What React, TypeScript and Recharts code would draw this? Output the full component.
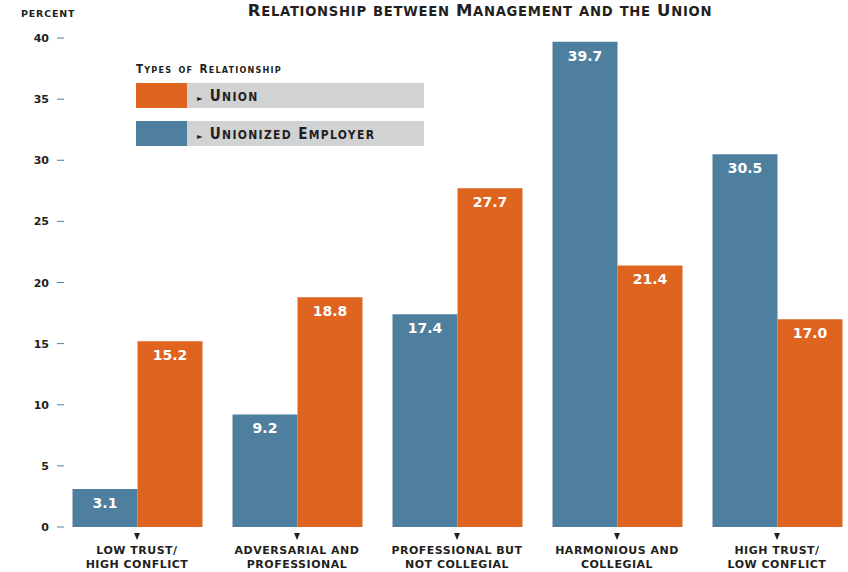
import { BarChart, Bar, XAxis, YAxis, LabelList } from 'recharts';

const categories = [
  'LOW TRUST/|HIGH CONFLICT',
  'ADVERSARIAL AND|PROFESSIONAL',
  'PROFESSIONAL BUT|NOT COLLEGIAL',
  'HARMONIOUS AND|COLLEGIAL',
  'HIGH TRUST/|LOW CONFLICT',
];
const employerValues = [3.1, 9.2, 17.4, 39.7, 30.5];
const unionValues = [15.2, 18.8, 27.7, 21.4, 17.0];
const yTicks = [0, 5, 10, 15, 20, 25, 30, 35, 40];

const BLUE = '#4f7f9f';
const ORANGE = '#de641f';
const GRAY = '#d1d2d4';
const INK = '#231f20';
const FONT = '"DejaVu Sans Condensed", sans-serif';
const WIDE = '"DejaVu Sans", sans-serif';

const data = categories.map((name, i) => ({
  name,
  employer: employerValues[i],
  union: unionValues[i],
}));

const legendItems = [
  { label: 'Union', color: ORANGE },
  { label: 'Unionized Employer', color: BLUE },
];

// fake small caps: first letter of each word large, rest smaller uppercase
const SmallCaps = ({ text, big, small }: { text: string; big: number; small: number }) => (
  <span>
    {text.split(' ').map((w, i) => {
      const first = w[0];
      const isCap = first === first.toUpperCase();
      return (
        <span key={i}>
          {i > 0 ? ' ' : ''}
          <span style={{ fontSize: isCap ? big : small }}>{first.toUpperCase()}</span>
          <span style={{ fontSize: small }}>{w.slice(1).toUpperCase()}</span>
        </span>
      );
    })}
  </span>
);

const YTick = (props: any) => {
  const { x, y, payload } = props;
  return (
    <g>
      <text x={x} y={y} dy={4} textAnchor="end" fill={INK}
        style={{ fontFamily: WIDE, fontWeight: 700, fontSize: 11 }}>
        {payload.value}
      </text>
      <line x1={x + 8} x2={x + 15} y1={y} y2={y} stroke={BLUE} strokeWidth={1} />
    </g>
  );
};

const XTick = (props: any) => {
  const { x, y, payload } = props;
  const lines = String(payload.value).split('|');
  return (
    <g>
      <path d={`M${x - 3},${y - 2} L${x + 3},${y - 2} L${x},${y + 5} Z`} fill={INK} />
      {lines.map((ln, i) => (
        <text key={i} x={x} y={y + 19 + i * 14} textAnchor="middle" fill={INK}
          style={{ fontFamily: WIDE, fontWeight: 700, fontSize: 11, letterSpacing: 0.5 }}>
          {ln}
        </text>
      ))}
    </g>
  );
};

export default function App() {
  return (
    <div style={{ position: 'absolute', left: 0, top: 0, width: 860, height: 572, background: '#fff' }}>
      <div style={{ position: 'absolute', left: 21, top: 8, fontFamily: WIDE, fontWeight: 700, fontSize: 9.5, letterSpacing: 0.8, color: INK }}>
        PERCENT
      </div>
      <div style={{ position: 'absolute', left: 147, width: 666, top: 1, textAlign: 'center', fontFamily: WIDE, fontWeight: 700, color: INK, letterSpacing: 0.7, whiteSpace: 'nowrap' }}>
        <SmallCaps text="Relationship between Management and the Union" big={16.5} small={13.2} />
      </div>
      <div style={{ position: 'absolute', left: 136, top: 60, fontFamily: FONT, color: INK, zIndex: 2 }}>
        <div style={{ fontWeight: 700, marginBottom: 5, lineHeight: '16px', letterSpacing: 1.2, whiteSpace: 'nowrap' }}>
          <SmallCaps text="Types of Relationship" big={11.5} small={9} />
        </div>
        {legendItems.map((it) => (
          <div key={it.label} style={{ display: 'flex', height: 25, marginBottom: 13 }}>
            <div style={{ width: 51, background: it.color }} />
            <div style={{ width: 237, background: GRAY, display: 'flex', alignItems: 'center', paddingLeft: 10, boxSizing: 'border-box', fontWeight: 700, letterSpacing: 1.3, whiteSpace: 'nowrap' }}>
              <span>
                <span style={{ fontSize: 8, marginRight: 6 }}>►</span>
                <SmallCaps text={it.label} big={15} small={12} />
              </span>
            </div>
          </div>
        ))}
      </div>
      <BarChart width={860} height={572} data={data}
        margin={{ top: 38, right: 3, left: 0, bottom: 15 }}
        barCategoryGap={15.5} barGap={0}>
        <XAxis dataKey="name" axisLine={false} tickLine={false} interval={0} tick={<XTick />} height={30} />
        <YAxis domain={[0, 40]} ticks={yTicks} width={57} axisLine={false} tickLine={false} tick={<YTick />} />
        <Bar dataKey="employer" fill={BLUE} isAnimationActive={false}>
          <LabelList dataKey="employer" position="insideTop" offset={9} fill="#fff"
            formatter={(v: any) => Number(v).toFixed(1)}
            style={{ fontFamily: WIDE, fontWeight: 700, fontSize: 14 }} />
        </Bar>
        <Bar dataKey="union" fill={ORANGE} isAnimationActive={false}>
          <LabelList dataKey="union" position="insideTop" offset={9} fill="#fff"
            formatter={(v: any) => Number(v).toFixed(1)}
            style={{ fontFamily: WIDE, fontWeight: 700, fontSize: 14 }} />
        </Bar>
      </BarChart>
    </div>
  );
}
